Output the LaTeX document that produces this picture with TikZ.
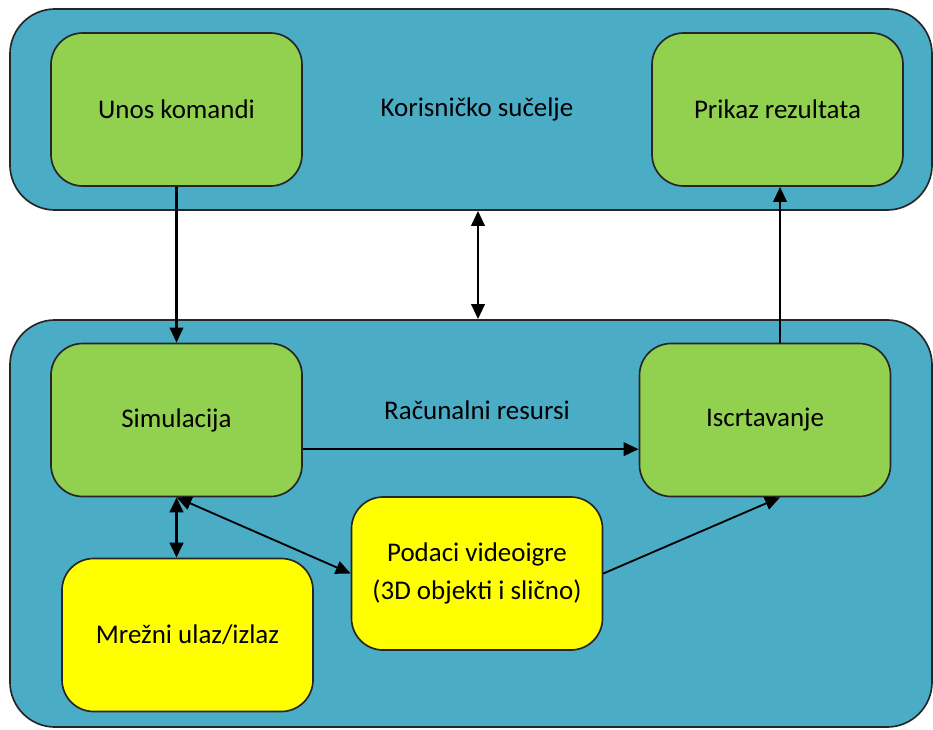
\documentclass[tikz,border=0pt]{standalone}
\usepackage{fontspec}
\setmainfont{Carlito}
\usetikzlibrary{arrows.meta}

\definecolor{plava}{HTML}{4BACC6}
\definecolor{zelena}{HTML}{92D050}
\definecolor{zuta}{HTML}{FFFF00}

\tikzset{
  panel/.style={draw=black!85, line width=0.05cm, fill=plava, rounded corners=1.35cm},
  kutija/.style={draw=black!85, line width=0.05cm, rounded corners=0.95cm,
    minimum width=7.53cm, minimum height=4.59cm, align=center,
    font=\fontsize{23}{32}\selectfont},
  natpis/.style={font=\fontsize{23}{32}\selectfont},
  strelica/.style={-{Triangle[length=0.45cm,width=0.4cm]}, line width=0.075cm},
  dvostruka/.style={{Triangle[length=0.45cm,width=0.4cm]}-{Triangle[length=0.45cm,width=0.4cm]}, line width=0.075cm},
}

\begin{document}
\begin{tikzpicture}[x=0.03cm, y=-0.03cm]
    \useasboundingbox (0,0) rectangle (933,729);
    % panels
    \node[panel, minimum width=27.66cm, minimum height=6.03cm] (gornji) at (471,109.5) {};
    \node[panel, minimum width=27.66cm, minimum height=12.21cm] (donji) at (471,523.5) {};
    \node[natpis] (korisnicko) at (477,109) {Korisničko sučelje};
    \node[natpis] (racunalni) at (477,410) {Računalni resursi};
    % boxes
    \foreach \ime/\x/\y/\tekst in {unos/176.5/109.5/Unos komandi, prikaz/777.5/109.5/Prikaz rezultata,
        simulacija/176.5/420/Simulacija, iscrtavanje/765/420/Iscrtavanje}
        \node[kutija, fill=zelena] (\ime) at (\x,\y) {\tekst};
    \node[kutija, fill=zuta] (podaci) at (477,573.5) {Podaci videoigre\\(3D objekti i slično)};
    \node[kutija, fill=zuta] (mrezni) at (187.5,635) {Mrežni ulaz/izlaz};
    % connectors
    \draw[strelica] (unos.south) -- (simulacija.north);
    \draw[strelica] (iscrtavanje.79) -- (iscrtavanje.79 |- prikaz.south);
    \draw[strelica] (simulacija.-13.5) -- (simulacija.-13.5 -| iscrtavanje.west);
    \draw[dvostruka] (478,0 |- gornji.south) -- (478,0 |- donji.north);
    \draw[dvostruka, line width=0.1cm] (simulacija.south) -- (simulacija.south |- mrezni.north);
    \draw[dvostruka, line width=0.055cm] (simulacija.south) -- (podaci.west);
    \draw[strelica, line width=0.055cm] (podaci.east) -- (iscrtavanje.-79);
\end{tikzpicture}
\end{document}
